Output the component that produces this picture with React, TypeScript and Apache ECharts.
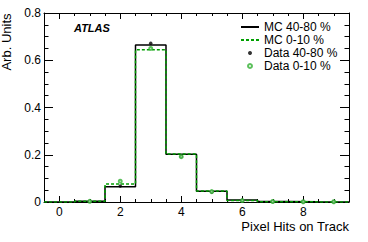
import React, { useEffect, useRef } from "react";
import * as echarts from "echarts";

const bins = [0, 1, 2, 3, 4, 5, 6, 7, 8, 9];
const mc4080 = [0, 0.003, 0.065, 0.665, 0.202, 0.045, 0.008, 0.002, 0.001, 0.0005];
const mc010 = [0, 0.003, 0.076, 0.644, 0.203, 0.047, 0.006, 0.0015, 0.0005, 0.0003];
const dataBins = [1, 2, 3, 4, 5, 6, 7, 8, 9];
const data4080 = [0.003, 0.068, 0.672, 0.193, 0.042, 0.007, 0.002, 0.001, 0.001];
const data010 = [0.003, 0.088, 0.65, 0.192, 0.044, 0.006, 0.002, 0.001, 0.001];
const yTicks = [0, 0.2, 0.4, 0.6, 0.8];

const FONT = "Liberation Sans";
const GREEN = "#00a000";
const GREEN_PT = "#33b033";

function stepPoints(vals: number[]) {
  const pts: number[][] = [];
  bins.forEach((b, i) => {
    pts.push([b - 0.5, vals[i]]);
    pts.push([b + 0.5, vals[i]]);
  });
  return pts;
}

export default function App() {
  const ref = useRef<HTMLDivElement>(null);
  useEffect(() => {
    document.body.style.margin = "0";
    const chart = echarts.init(ref.current!, null, { renderer: "svg" });
    const xMin = bins[0] - 0.5;
    const xMax = bins[bins.length - 1] + 0.5;
    const majorX = (position: "top" | "bottom", labels: boolean) => ({
      type: "value",
      position,
      min: xMin,
      max: xMax,
      splitNumber: 5,
      axisLine: { show: true, onZero: false, lineStyle: { color: "#000", width: 1 } },
      axisTick: { show: true, inside: true, length: 6, lineStyle: { color: "#000" } },
      axisLabel: {
        show: labels,
        showMinLabel: false,
        showMaxLabel: false,
        fontSize: 12,
        fontFamily: FONT,
        color: "#000",
        margin: 4,
        formatter: (v: number) => String(Math.abs(v) < 1e-9 ? 0 : v),
      },
      splitLine: { show: false },
    });
    const minorX = (position: "top" | "bottom") => ({
      type: "value",
      position,
      min: xMin,
      max: xMax,
      interval: 0.5,
      axisLine: { show: false, onZero: false },
      axisTick: { show: true, inside: true, length: 3, lineStyle: { color: "#000" } },
      axisLabel: { show: false },
      splitLine: { show: false },
    });
    const yAx = (position: "left" | "right", labels: boolean) => ({
      type: "value",
      position,
      min: yTicks[0],
      max: yTicks[yTicks.length - 1],
      interval: 0.2,
      axisLine: { show: true, onZero: false, lineStyle: { color: "#000", width: 1 } },
      axisTick: { show: true, inside: true, length: 9, lineStyle: { color: "#000" } },
      minorTick: { show: true, splitNumber: 4, length: 4.5, lineStyle: { color: "#000" } },
      axisLabel: {
        show: labels,
        fontSize: 12,
        fontFamily: FONT,
        color: "#000",
        margin: 3,
        formatter: (v: number) => (v === 0 ? "0" : v.toFixed(1)),
      },
      splitLine: { show: false },
    });
    const hide = { color: "rgba(0,0,0,0)", borderColor: "rgba(0,0,0,0)" };
    const yLeft: any = yAx("left", true);
    yLeft.name = "Arb. Units";
    yLeft.nameLocation = "middle";
    yLeft.nameRotate = 90;
    yLeft.nameGap = 18;
    yLeft.nameTextStyle = {
      fontSize: 13,
      fontFamily: FONT,
      color: "#000",
      padding: [0, 0, 0, 131],
    };
    chart.setOption({
      animation: false,
      textStyle: { fontFamily: FONT },
      grid: {
        left: 44,
        right: 19,
        top: 13,
        bottom: 40,
        containLabel: false,
        outerBoundsMode: "none",
      },
      xAxis: [majorX("bottom", true), minorX("bottom"), majorX("top", false), minorX("top")],
      yAxis: [yLeft, yAx("right", false)],
      legend: {
        orient: "vertical",
        left: 240,
        top: 21,
        padding: 0,
        itemWidth: 18,
        itemHeight: 4,
        itemGap: 1,
        textStyle: { fontSize: 12, fontFamily: FONT, color: "#000" },
        data: [
          { name: "MC 40-80 %", itemStyle: hide },
          { name: "MC 0-10 %", itemStyle: hide },
          "Data 40-80 %",
          "Data 0-10 %",
        ],
      },
      series: [
        {
          name: "MC 40-80 %",
          type: "line",
          data: stepPoints(mc4080),
          symbol: "none",
          lineStyle: { color: "#000", width: 1.5 },
          itemStyle: { color: "#000" },
          z: 2,
        },
        {
          name: "MC 0-10 %",
          type: "line",
          data: stepPoints(mc010),
          symbol: "none",
          lineStyle: { color: GREEN, width: 1.5, type: [3, 2] },
          itemStyle: { color: GREEN },
          z: 3,
        },
        {
          name: "Data 40-80 %",
          type: "scatter",
          data: dataBins.map((b, i) => [b, data4080[i]]),
          symbol: "circle",
          symbolSize: 3.5,
          itemStyle: { color: "#000" },
          z: 4,
        },
        {
          name: "Data 0-10 %",
          type: "scatter",
          data: dataBins.map((b, i) => [b, data010[i]]),
          symbol: "emptyCircle",
          symbolSize: 3,
          itemStyle: { color: GREEN_PT, borderWidth: 1 },
          z: 5,
        },
      ],
      graphic: [
        {
          type: "text",
          x: 74,
          y: 27.5,
          style: {
            text: "ATLAS",
            fontSize: 11,
            fontWeight: "bold",
            fontStyle: "italic",
            fontFamily: FONT,
            fill: "#000",
            align: "left",
            verticalAlign: "middle",
          },
        },
        {
          type: "text",
          x: 349,
          y: 226,
          style: {
            text: "Pixel Hits on Track",
            fontSize: 13,
            fontFamily: FONT,
            fill: "#000",
            align: "right",
            verticalAlign: "middle",
          },
        },
      ],
    });
    return () => chart.dispose();
  }, []);
  return (
    <div
      ref={ref}
      style={{ width: 368, height: 242, position: "absolute", left: 0, top: 0, background: "#fff" }}
    />
  );
}
